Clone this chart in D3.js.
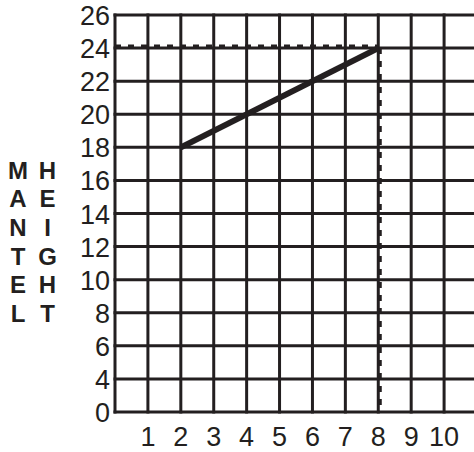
<!DOCTYPE html>
<html>
<head>
<meta charset="utf-8">
<script src="https://cdn.jsdelivr.net/npm/d3@7"></script>
<style>
  html, body { margin: 0; padding: 0; background: #fff; }
  svg { display: block; }
</style>
</head>
<body>
<script>
// ---- data ----
const xTickValues = [1, 2, 3, 4, 5, 6, 7, 8, 9, 10];
const xGridValues = [0, 1, 2, 3, 4, 5, 6, 7, 8, 9, 10, 11];
// broken axis: the bottom gridline is labelled "0", next one "4"
const yTickValues = [2, 4, 6, 8, 10, 12, 14, 16, 18, 20, 22, 24, 26];
const yTickLabels = ["0", "4", "6", "8", "10", "12", "14", "16", "18", "20", "22", "24", "26"];
const lineX = [2, 8];
const lineY = [18, 24];
const guideX = [0, 8, 8];
const guideY = [24, 24, 2];
const titleLeft = ["M", "A", "N", "T", "E", "L"];
const titleRight = ["H", "E", "I", "G", "H", "T"];

const W = 474, H = 452;
const ink = "#231f20";

const svg = d3.select("body").append("svg").attr("width", W).attr("height", H);

const x = d3.scaleLinear().domain([0, 11]).range([115, 477]);
const y = d3.scaleLinear().domain([2, 26]).range([412, 15]);

// grid
const grid = svg.append("g").attr("stroke", ink).attr("stroke-width", 3).attr("stroke-linecap", "square");
grid.selectAll("line.v").data(xGridValues).join("line").attr("class", "v")
  .attr("x1", d => x(d)).attr("x2", d => x(d))
  .attr("y1", y(26)).attr("y2", y(2));
grid.selectAll("line.h").data(yTickValues).join("line").attr("class", "h")
  .attr("x1", x(0)).attr("x2", x(11))
  .attr("y1", d => y(d)).attr("y2", d => y(d));

// dashed guides
svg.append("line")
  .attr("x1", x(guideX[0])).attr("x2", x(guideX[1]))
  .attr("y1", y(guideY[0]) - 2).attr("y2", y(guideY[1]) - 2)
  .attr("stroke", ink).attr("stroke-width", 3).attr("stroke-dasharray", "6,7");
svg.append("line")
  .attr("x1", x(guideX[1]) + 2).attr("x2", x(guideX[2]) + 2)
  .attr("y1", y(guideY[1])).attr("y2", y(guideY[2]))
  .attr("stroke", ink).attr("stroke-width", 3).attr("stroke-dasharray", "6,7");

// data line
svg.append("path")
  .datum(lineX.map((d, i) => [d, lineY[i]]))
  .attr("d", d3.line().x(d => x(d[0])).y(d => y(d[1])))
  .attr("fill", "none").attr("stroke", ink).attr("stroke-width", 6);

// y tick labels
svg.append("g").selectAll("text").data(yTickValues).join("text")
  .attr("x", 110).attr("y", d => y(d) + 10)
  .attr("text-anchor", "end")
  .attr("font-family", "Liberation Sans, Arial, sans-serif")
  .attr("font-size", 27).attr("fill", ink)
  .text((d, i) => yTickLabels[i]);

// x tick labels
svg.append("g").selectAll("text").data(xTickValues).join("text")
  .attr("x", d => x(d)).attr("y", 446)
  .attr("text-anchor", "middle")
  .attr("font-family", "Liberation Sans, Arial, sans-serif")
  .attr("font-size", 27).attr("fill", ink)
  .text(d => d);

// vertical stacked title
const tg = svg.append("g")
  .attr("font-family", "Liberation Sans, Arial, sans-serif")
  .attr("font-weight", "bold").attr("font-size", 24).attr("fill", ink)
  .attr("text-anchor", "middle");
tg.selectAll("text.l").data(titleLeft).join("text").attr("class", "l")
  .attr("x", 18).attr("y", (d, i) => 178.5 + i * 28.7).text(d => d);
tg.selectAll("text.r").data(titleRight).join("text").attr("class", "r")
  .attr("x", 47.5).attr("y", (d, i) => 178.5 + i * 28.7).text(d => d);
</script>
</body>
</html>
